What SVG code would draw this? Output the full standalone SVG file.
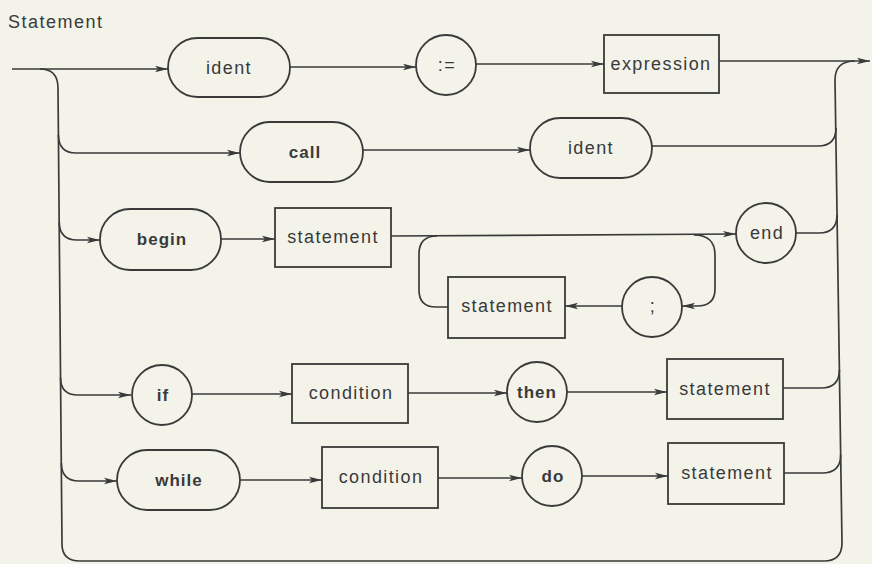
<svg xmlns="http://www.w3.org/2000/svg" width="872" height="564" viewBox="0 0 872 564">
<defs>
<marker id="ah" markerUnits="userSpaceOnUse" markerWidth="14" markerHeight="8" refX="13" refY="4" orient="auto">
<path d="M0,0.8 L13,4 L0,7.2 L3,4 z" fill="#3a3a3a"/>
</marker>
<style>
.n{fill:none;stroke:#3a3a3a;stroke-width:1.8}
.c{fill:none;stroke:#3a3a3a;stroke-width:1.7}
.a{marker-end:url(#ah)}
.t{font-family:"Liberation Sans",Arial,sans-serif;font-size:18px;letter-spacing:1.4px;fill:#3a3a3a;text-anchor:middle}
.b{font-family:"Liberation Sans",Arial,sans-serif;font-size:17px;font-weight:bold;letter-spacing:1px;fill:#3a3a3a;text-anchor:middle}
</style>
</defs>
<rect width="872" height="564" fill="#f3f3ea"/>
<text x="8" y="28" font-family="Liberation Sans, Arial, sans-serif" font-size="18" letter-spacing="1.5" fill="#3a3a3a">Statement</text>
<g id="connectors">
<path class="c a" d="M12,69 H168"/>
<path class="c" d="M40,69 Q58,69 58,88 L62,544 Q62,561 80,561 H824 Q842,561 842,543 L835,80 Q835,61 855,61"/>
<path class="c a" d="M290,67 H416"/>
<path class="c a" d="M476,64 H604"/>
<path class="c a" d="M719,61 H870"/>
<path class="c a" d="M58.4,135 Q58.6,153 76,153 H240"/>
<path class="c a" d="M363,150 H530"/>
<path class="c" d="M652,146 H818 Q836,146 836,128"/>
<path class="c a" d="M59.2,222 Q59.4,240 77,240 H100"/>
<path class="c a" d="M221,239 H275"/>
<path class="c a" d="M391,236 L736,234"/>
<path class="c a" d="M694,235 Q715,235 715,255 V289 Q715,306 697,306 H682"/>
<path class="c a" d="M622,306 H565"/>
<path class="c" d="M448,307 H436 Q419,307 419,290 V254 Q419,236 437,236"/>
<path class="c" d="M796,233 H819 Q837,233 837,215"/>
<path class="c a" d="M60.5,378 Q60.7,395 78,395 H131"/>
<path class="c a" d="M192,394 H292"/>
<path class="c a" d="M408,393 H507"/>
<path class="c a" d="M567,392 H667"/>
<path class="c" d="M783,388 H821 Q839.4,388 839.4,370"/>
<path class="c a" d="M61.3,463 Q61.5,481 79,481 H117"/>
<path class="c a" d="M240,480 H322"/>
<path class="c a" d="M438,478 H522"/>
<path class="c a" d="M582,476 H668"/>
<path class="c" d="M784,473 H822 Q840.7,473 840.7,455"/>
</g>
<g id="ident1"><rect class="n" x="168" y="38" width="122" height="59" rx="29.5"/><text class="t" x="229" y="74">ident</text></g>
<g id="assign"><circle class="n" cx="446" cy="65" r="30"/><text class="t" x="447" y="71" letter-spacing="4">:=</text></g>
<g id="expression"><rect class="n" x="604" y="35" width="115" height="58"/><text class="t" x="661" y="70">expression</text></g>
<g id="call"><rect class="n" x="240" y="122" width="123" height="60" rx="30"/><text class="b" x="305" y="158">call</text></g>
<g id="ident2"><rect class="n" x="530" y="118" width="122" height="60" rx="30"/><text class="t" x="591" y="154">ident</text></g>
<g id="begin"><rect class="n" x="100" y="209" width="121" height="61" rx="30"/><text class="b" x="162" y="245">begin</text></g>
<g id="statement1"><rect class="n" x="275" y="208" width="116" height="59"/><text class="t" x="333" y="243">statement</text></g>
<g id="end"><circle class="n" cx="766" cy="233" r="30"/><text class="t" x="767" y="239">end</text></g>
<g id="semicolon"><circle class="n" cx="652" cy="307" r="30"/><text class="t" x="653" y="312">;</text></g>
<g id="statement2"><rect class="n" x="448" y="277" width="117" height="61"/><text class="t" x="507" y="312">statement</text></g>
<g id="if"><circle class="n" cx="162" cy="395" r="30"/><text class="b" x="163" y="401">if</text></g>
<g id="condition1"><rect class="n" x="292" y="364" width="116" height="59"/><text class="t" x="351" y="399">condition</text></g>
<g id="then"><circle class="n" cx="537" cy="392" r="30"/><text class="b" x="537" y="398">then</text></g>
<g id="statement3"><rect class="n" x="667" y="359" width="116" height="60"/><text class="t" x="725" y="395">statement</text></g>
<g id="while"><rect class="n" x="117" y="450" width="123" height="60" rx="30"/><text class="b" x="179" y="486">while</text></g>
<g id="condition2"><rect class="n" x="322" y="447" width="116" height="61"/><text class="t" x="381" y="483">condition</text></g>
<g id="do"><circle class="n" cx="552" cy="476" r="30"/><text class="b" x="553" y="482">do</text></g>
<g id="statement4"><rect class="n" x="668" y="443" width="116" height="61"/><text class="t" x="727" y="479">statement</text></g>
</svg>
